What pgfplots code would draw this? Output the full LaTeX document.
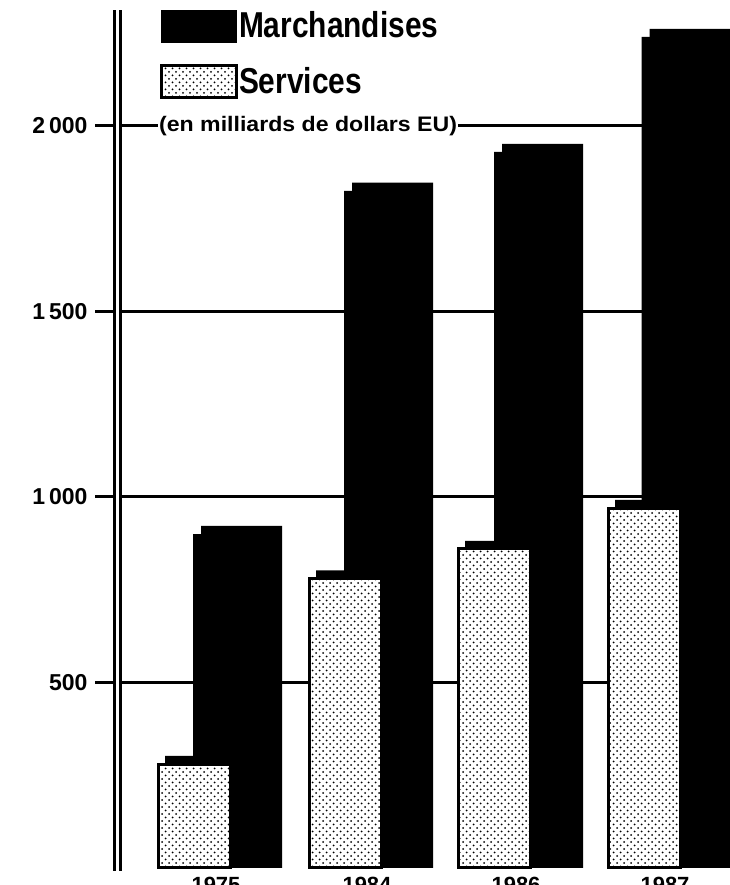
\documentclass[border=0pt]{standalone}
\usepackage{fontspec}
\setmainfont{Liberation Sans}
\usepackage{pgfplots}
\pgfplotsset{compat=1.18}
\usetikzlibrary{patterns}
\pgfdeclarepatternformonly{sparsedots}{\pgfqpoint{-1pt}{-1pt}}{\pgfqpoint{8pt}{8pt}}{\pgfqpoint{7pt}{7pt}}{%
  \pgfpathcircle{\pgfqpoint{1pt}{1pt}}{1pt}%
  \pgfpathcircle{\pgfqpoint{4.5pt}{4.5pt}}{1pt}%
  \pgfusepath{fill}}
\begin{document}
\begin{tikzpicture}
\begin{axis}[
  at={(117pt,17pt)}, anchor=south west,
  x=1pt, y=0.371pt,
  xmin=117, xmax=729, ymin=0, ymax=2313,
  clip=false,
  axis line style={draw=none},
  xtick={216,367,516,665},
  xticklabels={1975,1984,1986,1987},
  x tick style={draw=none},
  xticklabel style={font=\bfseries\fontsize{22}{24}\selectfont, yshift=16pt},
  ytick={500,1000,1500,2000},
  ymajorgrids, grid style={black, line width=3pt},
  tick align=outside, major tick length=22pt,
  y tick style={black, line width=3pt},
  yticklabel style={font=\bfseries\fontsize{23}{25}\selectfont, xshift=-4pt},
  /pgf/number format/assume math mode=true,
  /pgf/number format/1000 sep={\,},
  legend style={at={(0.07,1.0)}, anchor=north west, draw=none, fill=none,
    inner sep=0pt, row sep=22pt, legend cell align=left,
    nodes={inner sep=1pt},
    font=\bfseries\fontsize{36}{38}\selectfont},
  legend image code/.code={\draw[#1] (0pt,-17pt) rectangle (75pt,15pt);},
]
% Marchandises: back face (offset) and front face
\addplot[ybar, bar shift=0pt, bar width=81pt, fill=black, draw=none, forget plot]
  coordinates {(241.5,922) (392.5,1847) (542.5,1952) (690,2262)};
\addplot[ybar, bar shift=0pt, bar width=81pt, fill=black, draw=none]
  coordinates {(233.5,900) (384.5,1825) (534.5,1930) (682,2240)};
\addlegendentry{\scalebox{0.83}[1]{Marchandises}}
% Services: back face (offset) and front face
\addplot[ybar, bar shift=0pt, bar width=75pt, fill=black, draw=none, forget plot]
  coordinates {(202.5,302) (353.5,802) (502.5,882) (652.5,992)};
\addplot[ybar, bar shift=0pt, bar width=72pt, fill=white, draw=black, line width=3pt,
  postaction={pattern=sparsedots}]
  coordinates {(194.5,280) (345.5,780) (494.5,860) (644.5,970)};
\addlegendentry{\scalebox{0.83}[1]{Services}}
\node[anchor=west, fill=white, inner sep=1pt, font=\bfseries\fontsize{21}{22}\selectfont]
  at (axis cs:158,2000) {\scalebox{1.1}[1]{(en milliards de dollars EU)}};
\draw[black, line width=3pt, double=white, double distance=3pt]
  (axis cs:117.5,-8) -- (axis cs:117.5,2313);
\end{axis}
\pgfresetboundingbox
\useasboundingbox (0,0) rectangle (729pt,885pt);
\end{tikzpicture}
\end{document}
